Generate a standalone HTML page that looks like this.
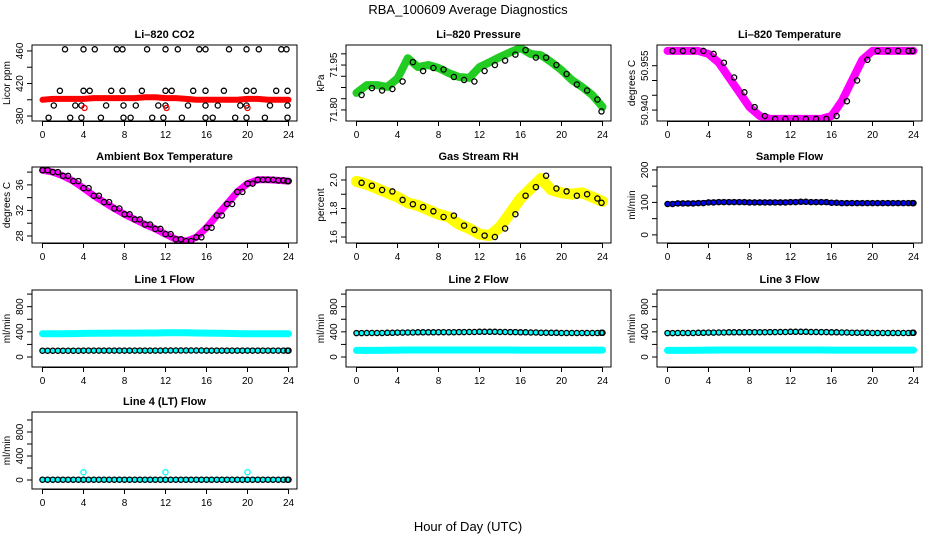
<!DOCTYPE html>
<html><head><meta charset="utf-8"><style>
html,body{margin:0;padding:0;background:#fff;}
svg text{font-family:"Liberation Sans",sans-serif;}
</style></head><body>
<svg id="chart" width="936" height="540" viewBox="0 0 936 540" xmlns="http://www.w3.org/2000/svg">
<text x="468" y="14" text-anchor="middle" font-size="13">RBA_100609  Average Diagnostics</text>
<text x="468" y="531" text-anchor="middle" font-size="13">Hour of Day (UTC)</text>
</svg>
<script>
const hours = [0,1,2,3,4,5,6,7,8,9,10,11,12,13,14,15,16,17,18,19,20,21,22,23,24];
const xTicks = [0,4,8,12,16,20,24];
// CO2
const co2Band = [400,401,401,401,401,402,402,402,402,402,403,403,402,402,401,400,400,400,400,400,401,401,400,400,400];
const co2OutHours = [2.2,4.0,5.1,7.25,7.8,10.2,12.0,13.2,15.3,15.9,18.2,19.9,21.1,23.3,23.8, 1.7,4.0,4.6,6.7,7.8,9.7,12.0,12.6,14.7,15.9,17.7,19.9,20.6,22.8,23.9, 1.1,3.2,3.8,6.2,7.9,9.1,11.3,12.0,14.2,15.9,17.1,19.3,19.9,22.2,23.9, 0.6,2.7,3.8,5.7,7.9,8.6,10.7,11.8,13.6,15.9,16.6,18.8,19.9,21.7,23.9];
const co2OutValues = [462,462,462,462,462,462,462,462,462,462,462,462,462,462,462, 411,411,411,411,411,411,411,411,411,411,411,411,411,411,411, 393,393,393,393,393,393,393,393,393,393,393,393,393,393,393, 378,378,378,378,378,378,378,378,378,378,378,378,378,378,378];
const co2RedHours = [4.1,12.1,20.0];
const co2RedValues = [390,390,390];
// Pressure
const presBand = [71.857,71.883,71.883,71.877,71.905,71.973,71.943,71.950,71.940,71.923,71.910,71.907,71.943,71.960,71.977,71.993,72.007,71.987,71.983,71.960,71.933,71.900,71.877,71.850,71.810];
const presDots = [71.850,71.873,71.865,71.870,71.895,71.960,71.930,71.940,71.935,71.910,71.900,71.895,71.930,71.950,71.965,71.985,72.000,71.975,71.975,71.950,71.920,71.885,71.865,71.835,71.795];
// Li-820 temperature
const tempBand = [50.960,50.960,50.960,50.960,50.959,50.956,50.951,50.946,50.941,50.938,50.937,50.937,50.937,50.937,50.937,50.937,50.938,50.943,50.950,50.957,50.960,50.960,50.960,50.960,50.960];
// Ambient
const ambBand = [38.3,38.0,37.4,36.6,35.5,34.3,33.3,32.3,31.4,30.6,29.8,29.1,28.3,27.5,27.2,27.8,29.3,31.2,33.0,34.9,36.2,36.8,36.8,36.7,36.6];
// RH
const rhBand = [1.99,1.97,1.94,1.91,1.88,1.84,1.82,1.79,1.76,1.74,1.69,1.66,1.62,1.61,1.67,1.77,1.87,1.94,2.01,1.93,1.91,1.90,1.91,1.88,1.85];
const rhDots = [1.98,1.96,1.93,1.92,1.86,1.83,1.81,1.78,1.74,1.75,1.68,1.65,1.61,1.60,1.66,1.76,1.89,1.95,2.03,1.94,1.92,1.89,1.90,1.87,1.84];
// Sample flow
const sampleBand = [95,97,97,98,100,101,101,101,100,100,100,100,101,102,101,101,99,98,98,98,98,98,98,98,98];
// Line flows
const line1Cyan = [370,370,370,372,375,378,378,380,380,380,382,382,385,385,385,382,380,378,375,372,370,370,370,370,370];
const line1Black = [100,100,100,100,102,102,102,102,102,102,102,102,104,104,104,104,102,102,102,102,102,102,102,102,102];
const line2Black = [380,382,382,384,388,390,392,392,394,394,396,398,400,400,398,396,392,390,386,384,382,382,382,382,384];
const line2Cyan = [105,105,105,108,110,112,112,112,112,112,112,112,112,112,112,112,110,110,110,110,110,110,110,110,110];
const line3Black = [380,382,382,384,388,390,392,392,394,394,396,398,400,400,398,396,392,390,386,384,382,382,382,382,384];
const line3Cyan = [105,105,105,108,110,112,112,112,112,112,112,112,112,112,112,112,110,110,110,110,110,110,110,110,110];
const line4Black = [5,5,5,5,5,5,5,5,5,5,5,5,5,5,5,5,5,5,5,5,5,5,5,5,5];
const line4CyanOutHours = [4.0,12.0,20.0];
const line4CyanOutValues = [130,130,130];

const NS = "http://www.w3.org/2000/svg";
const svg = document.getElementById('chart');
function mk(tag, attrs, parent){const e=document.createElementNS(NS,tag);for(const k in attrs)e.setAttribute(k,attrs[k]);(parent||svg).appendChild(e);return e;}

function panel(p){
  const g = mk('g',{});
  
  
  const L=p.left,T=p.top,W=265,H=p.h||77;
  const sx = v => L + 10.5 + v*(246/24);
  const sy = v => T + H - (v - p.dom[0])/(p.dom[1]-p.dom[0])*H;
  const clip = 'c'+p.name;
  const cp = mk('clipPath',{id:clip},g); mk('rect',{x:L,y:T,width:W,height:H},cp);
  const data = mk('g',{'clip-path':'url(#'+clip+')'},g);
  
  
  (p.bands||[]).forEach(b=>{
    const pts = hours.map((h,i)=>sx(h).toFixed(1)+','+sy(b.vals[i]).toFixed(1)).join(' ');
    const pl = mk('polyline',{points:pts,fill:'none',stroke:b.color,'stroke-width':b.w||7,'stroke-linejoin':'round','stroke-linecap':'round'},data);
    
    
  });
  (p.dots||[]).forEach(d=>{
    d.vals.forEach((v,i)=>{
      const h = d.hrs ? d.hrs[i] : hours[i];
      const cx = d.hrs ? h : Math.min(23.9, h+0.5);
      const c = mk('circle',{cx:sx(cx).toFixed(1),cy:sy(v).toFixed(1),r:2.6,fill:'none',stroke:d.color,'stroke-width':1.3},data);
      
      
      if(!d.hrs && d.dense){
        const c2 = mk('circle',{cx:sx(h).toFixed(1),cy:sy(v).toFixed(1),r:2.6,fill:'none',stroke:d.color,'stroke-width':1.3},data);
        
        
      }
    });
  });
  const box = mk('rect',{x:L,y:T,width:W,height:H,fill:'none',stroke:'#000','stroke-width':1},g);
  
  
  xTicks.forEach(t=>{
    mk('line',{x1:sx(t),x2:sx(t),y1:T+H,y2:T+H+5,stroke:'#000'},g);
    const tx = mk('text',{x:sx(t),y:T+H+17,'text-anchor':'middle','font-size':10},g);
    tx.textContent=t;
    
    
  });
  mk('line',{x1:sx(0),x2:sx(24),y1:T+H+0.5,y2:T+H+0.5,stroke:'#000'},g);
  p.yTicks.forEach((t,i)=>{
    const y=sy(t);
    mk('line',{x1:L-5,x2:L,y1:y,y2:y,stroke:'#000'},g);
    if(p.yLabels[i]){
      const tx = mk('text',{x:0,y:0,'text-anchor':'middle','font-size':10,transform:`translate(${L-9},${y}) rotate(-90)`},g);
      tx.textContent=p.yLabels[i];
      
      
    }
  });
  const yt = mk('text',{x:0,y:0,'text-anchor':'middle','font-size':10,transform:`translate(${L-22},${T+H/2}) rotate(-90)`},g);
  yt.textContent=p.ytitle;
  
  
  const ti = mk('text',{x:L+W/2,y:T-7,'text-anchor':'middle','font-size':11,'font-weight':'bold'},g);
  ti.textContent=p.title;
  
  
}
const C=[32,346,657], R=[45,167,290,412];
const flowTicks=[0,200,400,600,800,1000], flowLabels=['0','','400','','800',''];
panel({name:'co2-panel',title:'Li\u2013820 CO2',ytitle:'Licor ppm',left:C[0],top:R[0],h:76,dom:[373.9,467.3],
  yTicks:[380,400,420,440,460],yLabels:['380','','420','','460'],
  bands:[{vals:co2Band,color:'#ff0000',w:6,name:'co2-series'}],
  dots:[{vals:co2OutValues,hrs:co2OutHours,color:'#000',name:'co2-avg-point'},{vals:co2RedValues,hrs:co2RedHours,color:'#ff0000',name:'co2-red-point'}]});
panel({name:'pressure-panel',title:'Li\u2013820 Pressure',ytitle:'kPa',left:C[1],top:R[0],h:76,dom:[71.763,72.017],
  yTicks:[71.80,71.8375,71.875,71.9125,71.95,71.9875],yLabels:['71.80','','','','71.95',''],
  bands:[{vals:presBand,color:'#22cc22',w:8,name:'pressure-series'}],
  dots:[{vals:presDots,color:'#000',name:'pressure-avg-point'}]});
panel({name:'temperature-panel',title:'Li\u2013820 Temperature',ytitle:'degrees C',left:C[2],top:R[0],h:76,dom:[50.9363,50.9620],
  yTicks:[50.940,50.945,50.950,50.955],yLabels:['50.940','','','50.955'],
  bands:[{vals:tempBand,color:'#ff00ff',w:8,name:'temperature-series'}],
  dots:[{vals:tempBand,color:'#000',name:'temperature-avg-point'}]});
panel({name:'ambient-panel',title:'Ambient Box Temperature',ytitle:'degrees C',left:C[0],top:R[1],h:76,dom:[26.9,38.8],
  yTicks:[28,30,32,34,36,38],yLabels:['28','','32','','36',''],
  bands:[{vals:ambBand,color:'#ff00ff',w:7,name:'ambient-series'}],
  dots:[{vals:ambBand,color:'#000',dense:true,name:'ambient-avg-point'}]});
panel({name:'rh-panel',title:'Gas Stream RH',ytitle:'percent',left:C[1],top:R[1],h:76,dom:[1.558,2.091],
  yTicks:[1.6,1.7,1.8,1.9,2.0],yLabels:['1.6','','1.8','','2.0'],
  bands:[{vals:rhBand,color:'#ffff00',w:11,name:'rh-series'}],
  dots:[{vals:rhDots,color:'#000',name:'rh-avg-point'}]});
panel({name:'sample-flow-panel',title:'Sample Flow',ytitle:'ml/min',left:C[2],top:R[1],h:76,dom:[-25,209],
  yTicks:[0,50,100,150,200],yLabels:['0','','100','','200'],
  bands:[{vals:sampleBand,color:'#0000ff',w:5,name:'sample-flow-series'}],
  dots:[{vals:sampleBand,color:'#000',dense:true,name:'sample-flow-avg-point'}]});
panel({name:'line1-panel',title:'Line 1 Flow',ytitle:'ml/min',left:C[0],top:R[2],h:77,dom:[-159,1065],
  yTicks:flowTicks,yLabels:flowLabels,
  bands:[{vals:line1Cyan,color:'#00ffff',w:7,name:'line1-cyan-series'},{vals:line1Black,color:'#00ffff',w:4,name:'line1-low-series'}],
  dots:[{vals:line1Black,color:'#000',dense:true,name:'line1-avg-point'}]});
panel({name:'line2-panel',title:'Line 2 Flow',ytitle:'ml/min',left:C[1],top:R[2],h:77,dom:[-159,1065],
  yTicks:flowTicks,yLabels:flowLabels,
  bands:[{vals:line2Cyan,color:'#00ffff',w:7,name:'line2-cyan-series'},{vals:line2Black,color:'#00ffff',w:4,name:'line2-high-series'}],
  dots:[{vals:line2Black,color:'#000',dense:true,name:'line2-avg-point'}]});
panel({name:'line3-panel',title:'Line 3 Flow',ytitle:'ml/min',left:C[2],top:R[2],h:77,dom:[-159,1065],
  yTicks:flowTicks,yLabels:flowLabels,
  bands:[{vals:line3Cyan,color:'#00ffff',w:7,name:'line3-cyan-series'},{vals:line3Black,color:'#00ffff',w:4,name:'line3-high-series'}],
  dots:[{vals:line3Black,color:'#000',dense:true,name:'line3-avg-point'}]});
panel({name:'line4-panel',title:'Line 4 (LT) Flow',ytitle:'ml/min',left:C[0],top:R[3],h:77,dom:[-150,1133],
  yTicks:flowTicks,yLabels:flowLabels,
  bands:[{vals:line4Black,color:'#00ffff',w:5,name:'line4-cyan-series'}],
  dots:[{vals:line4Black,color:'#000',dense:true,name:'line4-avg-point'},{vals:line4CyanOutValues,hrs:line4CyanOutHours,color:'#00ffff',name:'line4-cyan-outlier'}]});
</script>
</body></html>
